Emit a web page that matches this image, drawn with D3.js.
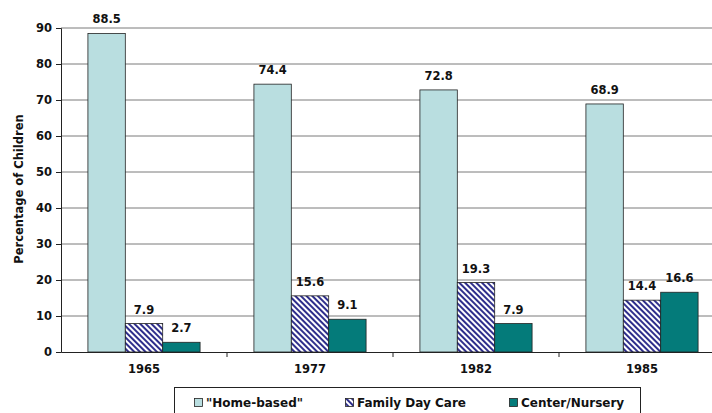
<!DOCTYPE html>
<html>
<head>
<meta charset="utf-8">
<script src="https://cdn.jsdelivr.net/npm/d3@7"></script>
<style>
  body { margin: 0; background: #fff; }
  svg { display: block; font-family: "DejaVu Sans", Arial, sans-serif; font-weight: bold; }
</style>
</head>
<body>
<svg id="chart" width="712" height="413"></svg>
<script>
const years = ['1965', '1977', '1982', '1985'];
const seriesNames = ['"Home-based"', 'Family Day Care', 'Center/Nursery'];
const homeBased = [88.5, 74.4, 72.8, 68.9];
const familyDayCare = [7.9, 15.6, 19.3, 14.4];
const centerNursery = [2.7, 9.1, 7.9, 16.6];
const yTicks = [0, 10, 20, 30, 40, 50, 60, 70, 80, 90];

const series = [homeBased, familyDayCare, centerNursery];
const fills = ['#b9dee0', 'url(#hatch)', '#047b7a'];

const svg = d3.select('#chart');
const plotLeft = 61, plotRight = 725, plotTop = 28, plotBottom = 352;

// hatch pattern for family day care
const defs = svg.append('defs');
const pat = defs.append('pattern')
    .attr('id', 'hatch')
    .attr('patternUnits', 'userSpaceOnUse')
    .attr('width', 4).attr('height', 4)
    .attr('patternTransform', 'rotate(45)');
pat.append('rect').attr('width', 4).attr('height', 4).attr('fill', '#fff');
pat.append('rect').attr('width', 4).attr('height', 2).attr('fill', '#2f2f8c');

const y = d3.scaleLinear().domain([0, 90]).range([plotBottom, plotTop]);
const x0 = d3.scaleBand().domain(years).range([plotLeft, plotRight]).paddingInner(0).paddingOuter(0);
const x1 = d3.scaleBand().domain([0, 1, 2]).range([0, x0.bandwidth()]).paddingOuter(0.72).paddingInner(0);

// gridlines
svg.append('g')
    .selectAll('line')
    .data(yTicks.filter(t => t > 0))
    .enter().append('line')
    .attr('x1', plotLeft).attr('x2', plotRight)
    .attr('y1', d => y(d)).attr('y2', d => y(d))
    .attr('stroke', '#7a7a7a').attr('stroke-width', 1);

// bars
const groups = svg.append('g').selectAll('g')
    .data(years)
    .enter().append('g')
    .attr('transform', d => `translate(${x0(d)},0)`);

groups.selectAll('rect')
    .data((d, i) => series.map((s, k) => ({ k: k, v: s[i] })))
    .enter().append('rect')
    .attr('x', d => x1(d.k))
    .attr('y', d => y(d.v))
    .attr('width', x1.bandwidth())
    .attr('height', d => plotBottom - y(d.v))
    .attr('fill', d => fills[d.k])
    .attr('stroke', '#222')
    .attr('stroke-width', 0.8);

groups.selectAll('text')
    .data((d, i) => series.map((s, k) => ({ k: k, v: s[i] })))
    .enter().append('text')
    .attr('x', d => x1(d.k) + x1.bandwidth() / 2)
    .attr('y', d => y(d.v) - 10)
    .attr('text-anchor', 'middle')
    .attr('font-size', 11.5)
    .attr('fill', '#111')
    .text(d => d.v.toFixed(1));

// y axis
const yAxis = svg.append('g')
    .attr('transform', `translate(${plotLeft},0)`)
    .call(d3.axisLeft(y).tickValues(yTicks).tickSize(5).tickPadding(4))
    .attr('font-family', null).attr('font-size', 11.5);
yAxis.select('.domain').attr('stroke', '#222');
yAxis.selectAll('.tick line').attr('stroke', '#222');
yAxis.selectAll('.tick text').attr('fill', '#111');

// x axis
const xAxis = svg.append('g')
    .attr('transform', `translate(0,${plotBottom})`)
    .call(d3.axisBottom(x0).tickSize(0).tickPadding(13).tickSizeOuter(0))
    .attr('font-family', null).attr('font-size', 11.5);
xAxis.select('.domain').attr('stroke', '#222');
xAxis.selectAll('.tick text').attr('fill', '#111');
svg.append('g').selectAll('line')
    .data(years.slice(1))
    .enter().append('line')
    .attr('x1', d => x0(d)).attr('x2', d => x0(d))
    .attr('y1', plotBottom).attr('y2', plotBottom + 5)
    .attr('stroke', '#222');

// y title
svg.append('text')
    .attr('transform', 'translate(23,189) rotate(-90)')
    .attr('text-anchor', 'middle')
    .attr('font-size', 11.5)
    .attr('fill', '#111')
    .text('Percentage of Children');

// legend
const legend = svg.append('g');
legend.append('rect')
    .attr('x', 174.5).attr('y', 387.5)
    .attr('width', 466).attr('height', 40)
    .attr('fill', '#fff').attr('stroke', '#222');
const legendX = [194, 345, 509];
seriesNames.forEach((name, k) => {
    legend.append('rect')
        .attr('x', legendX[k] + 0.5).attr('y', 398.5)
        .attr('width', 8).attr('height', 8)
        .attr('fill', fills[k]).attr('stroke', '#222').attr('stroke-width', 0.8);
    legend.append('text')
        .attr('x', legendX[k] + 12).attr('y', 407)
        .attr('font-size', 12)
        .attr('fill', '#111')
        .text(name);
});
</script>
</body>
</html>
